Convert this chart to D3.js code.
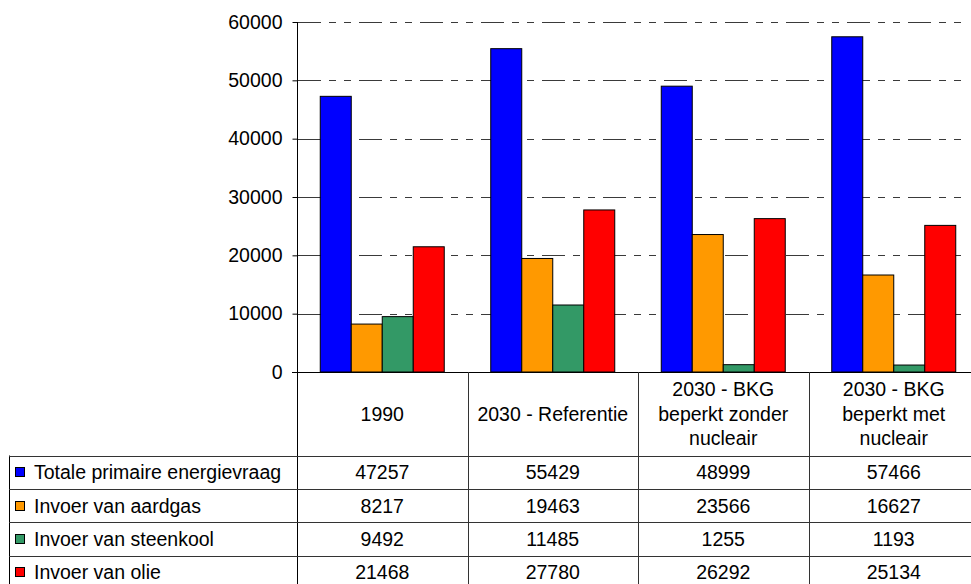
<!DOCTYPE html>
<html>
<head>
<meta charset="utf-8">
<script src="https://cdn.jsdelivr.net/npm/d3@7/dist/d3.min.js"></script>
<style>
  html, body { margin: 0; padding: 0; background: #fff; }
  svg { display: block; font-family: "Liberation Sans", Arial, sans-serif; }
</style>
</head>
<body>
<svg id="chart" width="971" height="584"></svg>
<script>
// Scenario categories (header lines of the data table)
const categories = ["1990", "2030 - Referentie", "2030 - BKG beperkt zonder nucleair", "2030 - BKG beperkt met nucleair"];
const categoryLines = [["1990"], ["2030 - Referentie"], ["2030 - BKG", "beperkt zonder", "nucleair"], ["2030 - BKG", "beperkt met", "nucleair"]];

// Series
const seriesNames = ["Totale primaire energievraag", "Invoer van aardgas", "Invoer van steenkool", "Invoer van olie"];
const seriesColors = ["#0000FF", "#FF9900", "#339966", "#FF0000"];
const totaalVraag = [47257, 55429, 48999, 57466];
const invoerAardgas = [8217, 19463, 23566, 16627];
const invoerSteenkool = [9492, 11485, 1255, 1193];
const invoerOlie = [21468, 27780, 26292, 25134];
const seriesValues = [totaalVraag, invoerAardgas, invoerSteenkool, invoerOlie];

// Y axis ticks
const yTicks = [0, 10000, 20000, 30000, 40000, 50000, 60000];

const svg = d3.select("#chart");
const fontSize = 19.5;

const plot = { left: 297, right: 979, top: 22, bottom: 372 };
const tableRowH = 33.4;
const headerBottom = 455.5;

const x = d3.scaleBand().domain(categories).range([plot.left, plot.right]).padding(0);
const bw = x.bandwidth();
const barW = bw / 5.5;
const xs = d3.scaleBand().domain(d3.range(seriesNames.length))
  .range([barW * 0.75, bw - barW * 0.75]).padding(0);
const y = d3.scaleLinear().domain([0, 60000]).range([plot.bottom, plot.top]);

// Gridlines
svg.append("g")
  .selectAll("line")
  .data(yTicks.filter(d => d > 0))
  .join("line")
  .attr("x1", plot.left + 1)
  .attr("x2", 968)
  .attr("y1", d => Math.round(y(d)) + 0.5)
  .attr("y2", d => Math.round(y(d)) + 0.5)
  .attr("stroke", "#3a3a3a")
  .attr("stroke-width", 1)
  .attr("stroke-dasharray", "23,8,7,8,7,8");

// Bars
const groups = svg.append("g")
  .selectAll("g")
  .data(categories)
  .join("g")
  .attr("transform", d => `translate(${x(d)},0)`);

groups.selectAll("rect")
  .data((c, ci) => seriesValues.map((vals, si) => ({ si, v: vals[ci] })))
  .join("rect")
  .attr("x", d => xs(d.si))
  .attr("width", xs.bandwidth())
  .attr("y", d => y(d.v))
  .attr("height", d => y(0) - y(d.v))
  .attr("fill", d => seriesColors[d.si])
  .attr("stroke", "#000")
  .attr("stroke-width", 1);

// Y axis
const yAxis = d3.axisLeft(y).tickValues(yTicks).tickSize(5).tickPadding(10).tickFormat(d3.format("d"));
const yg = svg.append("g")
  .attr("transform", `translate(${plot.left + 0.5},0)`)
  .call(yAxis);
yg.select(".domain").remove();
yg.selectAll(".tick line").attr("stroke", "#000");
yg.selectAll(".tick text").attr("font-size", fontSize).attr("fill", "#000")
  .attr("font-family", "Liberation Sans, Arial, sans-serif");
svg.append("line")
  .attr("x1", plot.left + 0.5).attr("x2", plot.left + 0.5)
  .attr("y1", plot.top).attr("y2", 584)
  .attr("stroke", "#000");
svg.append("line")
  .attr("x1", plot.left - 5).attr("x2", plot.right)
  .attr("y1", plot.bottom + 0.5).attr("y2", plot.bottom + 0.5)
  .attr("stroke", "#000");

// Data table
const table = svg.append("g");
const bounds = categories.map(c => x(c)).concat([plot.right]);
table.selectAll("line.v")
  .data(bounds.slice(1))
  .join("line")
  .attr("class", "v")
  .attr("x1", d => Math.round(d) + 0.5).attr("x2", d => Math.round(d) + 0.5)
  .attr("y1", plot.bottom).attr("y2", 584)
  .attr("stroke", "#333");

const legendLeft = 9;
table.append("line")
  .attr("x1", legendLeft + 0.5).attr("x2", legendLeft + 0.5)
  .attr("y1", headerBottom).attr("y2", 584)
  .attr("stroke", "#000");

const rowTops = d3.range(seriesNames.length).map(i => headerBottom + i * tableRowH);
table.selectAll("line.h")
  .data(rowTops)
  .join("line")
  .attr("class", "h")
  .attr("x1", legendLeft)
  .attr("x2", plot.right)
  .attr("y1", d => Math.round(d) + 0.5).attr("y2", d => Math.round(d) + 0.5)
  .attr("stroke", "#333");

// Header text
const lineH = 24.5;
const headerMid = (plot.bottom + headerBottom) / 2;
categories.forEach((c, ci) => {
  const lines = categoryLines[ci];
  const t = table.append("text")
    .attr("text-anchor", "middle")
    .attr("font-size", fontSize)
    .attr("fill", "#000");
  lines.forEach((ln, li) => {
    t.append("tspan")
      .attr("x", x(c) + bw / 2)
      .attr("y", headerMid + (li - (lines.length - 1) / 2) * lineH)
      .attr("dy", "0.36em")
      .text(ln);
  });
});

// Rows: legend key + values
seriesNames.forEach((name, si) => {
  const cy = rowTops[si] + tableRowH / 2;
  table.append("rect")
    .attr("x", 15.5).attr("y", Math.round(cy - 5) + 0.5)
    .attr("width", 9).attr("height", 9)
    .attr("fill", seriesColors[si])
    .attr("stroke", "#000");
  table.append("text")
    .attr("x", 34).attr("y", cy).attr("dy", "0.36em")
    .attr("font-size", fontSize).attr("fill", "#000")
    .text(name);
  table.selectAll(null)
    .data(categories)
    .join("text")
    .attr("x", c => x(c) + bw / 2)
    .attr("y", cy).attr("dy", "0.36em")
    .attr("text-anchor", "middle")
    .attr("font-size", fontSize).attr("fill", "#000")
    .text((c, ci) => seriesValues[si][ci]);
});
</script>
</body>
</html>
